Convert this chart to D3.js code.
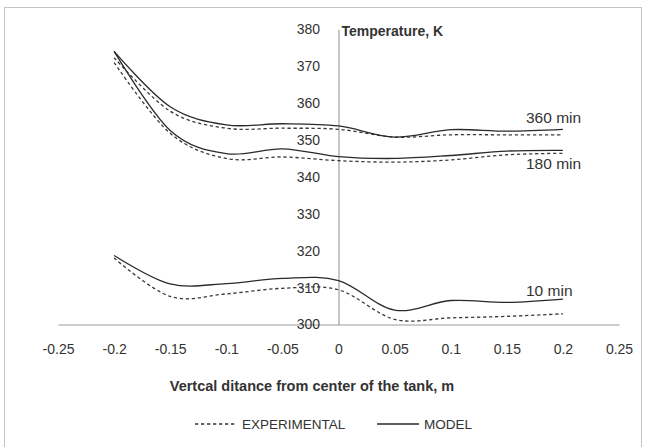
<!DOCTYPE html>
<html>
<head>
<meta charset="utf-8">
<script src="https://cdn.jsdelivr.net/npm/d3@7"></script>
<style>
  body { margin: 0; background: #fff; }
  text { font-family: "Liberation Sans", Arial, sans-serif; fill: #333; }
</style>
</head>
<body>
<div id="chart"></div>
<script>
const width = 648;
const height = 447;

// data
const positions = [-0.2, -0.15, -0.1, -0.05, 0, 0.05, 0.1, 0.15, 0.2];
const model360 = [374.0, 359.0, 354.1, 354.4, 353.8, 350.8, 352.8, 352.4, 352.9];
const exp360   = [372.3, 357.8, 353.2, 353.2, 352.9, 350.8, 351.4, 351.4, 351.4];
const model180 = [374.0, 352.6, 346.3, 347.6, 345.5, 345.0, 345.8, 347.0, 347.2];
const exp180   = [371.0, 351.8, 345.0, 345.4, 344.4, 344.0, 344.6, 346.0, 346.4];
const model10  = [318.7, 311.0, 311.1, 312.5, 311.9, 303.9, 306.5, 306.0, 306.9];
const exp10    = [318.0, 307.6, 308.3, 309.8, 309.4, 301.4, 301.8, 302.2, 302.9];
const xTicks = [-0.25, -0.2, -0.15, -0.1, -0.05, 0, 0.05, 0.1, 0.15, 0.2, 0.25];
const yTicks = [300, 310, 320, 330, 340, 350, 360, 370, 380];
const curveLabels = ["360 min", "180 min", "10 min"];

const x = d3.scaleLinear()
    .domain([-0.25, 0.25])
    .range([58, 619]);
const y = d3.scaleLinear()
    .domain([300, 380])
    .range([324.5, 29.3]);

const svg = d3.select("#chart")
    .append("svg")
        .attr("width", width)
        .attr("height", height);

// outer frame
svg.append("rect")
    .attr("x", 4.5).attr("y", 7.5)
    .attr("width", 637).attr("height", 460)
    .attr("fill", "none")
    .attr("stroke", "#c4c4c4");

// x axis
const xAxis = svg.append("g")
    .attr("transform", `translate(0,${y(300)})`)
    .call(d3.axisBottom(x)
        .tickValues(xTicks)
        .tickSize(0)
        .tickPadding(19.5)
        .tickFormat(d => String(d)));
xAxis.select(".domain").attr("stroke", "#9a9a9a");
xAxis.selectAll("text").style("font-size", "14px").attr("fill", "#333");

// y axis
const yAxis = svg.append("g")
    .attr("transform", `translate(${x(0)},0)`)
    .call(d3.axisLeft(y)
        .tickValues(yTicks)
        .tickSize(0)
        .tickPadding(18.5));
yAxis.select(".domain").attr("stroke", "#8c8c8c");
yAxis.selectAll("text").style("font-size", "14px").attr("fill", "#333");

// axis titles
svg.append("text")
    .attr("x", x(0) + 3)
    .attr("y", 36)
    .style("font-size", "14px")
    .style("font-weight", "bold")
    .text("Temperature, K");

svg.append("text")
    .attr("x", 312)
    .attr("y", 391)
    .attr("text-anchor", "middle")
    .style("font-size", "14.5px")
    .style("font-weight", "bold")
    .text("Vertcal ditance from center of the tank, m");

// curves
const line = d3.line()
    .x((d, i) => x(positions[i]))
    .y(d => y(d))
    .curve(d3.curveCardinal.tension(0));

const series = [
    { values: exp360, dashed: true },
    { values: exp180, dashed: true },
    { values: exp10, dashed: true },
    { values: model360, dashed: false },
    { values: model180, dashed: false },
    { values: model10, dashed: false }
];

svg.append("g")
    .selectAll("path")
    .data(series)
    .join("path")
        .attr("d", d => line(d.values))
        .attr("fill", "none")
        .attr("stroke", d => d.dashed ? "#3a3a3a" : "#2a2a2a")
        .attr("stroke-width", 1.3)
        .attr("stroke-dasharray", d => d.dashed ? "3.3,2.7" : null);

// curve labels, placed next to the line ends
const last = positions.length - 1;
const labelY = [
    y(model360[last]) - 12,
    y(exp180[last]) + 10,
    y(model10[last]) - 8
];
svg.append("g")
    .selectAll("text")
    .data(curveLabels)
    .join("text")
        .attr("x", 526)
        .attr("y", (d, i) => labelY[i])
        .attr("dy", "0.35em")
        .style("font-size", "15.5px")
        .text(d => d);

// legend
const legend = svg.append("g").attr("transform", "translate(0,424)");
legend.append("line")
    .attr("x1", 195).attr("x2", 236)
    .attr("stroke", "#333").attr("stroke-width", 1.3)
    .attr("stroke-dasharray", "3.3,2.7");
legend.append("text")
    .attr("x", 242).attr("dy", "0.35em")
    .style("font-size", "13.5px")
    .text("EXPERIMENTAL");
legend.append("line")
    .attr("x1", 377).attr("x2", 419)
    .attr("stroke", "#2a2a2a").attr("stroke-width", 1.3);
legend.append("text")
    .attr("x", 424).attr("dy", "0.35em")
    .style("font-size", "13.5px")
    .text("MODEL");
</script>
</body>
</html>
